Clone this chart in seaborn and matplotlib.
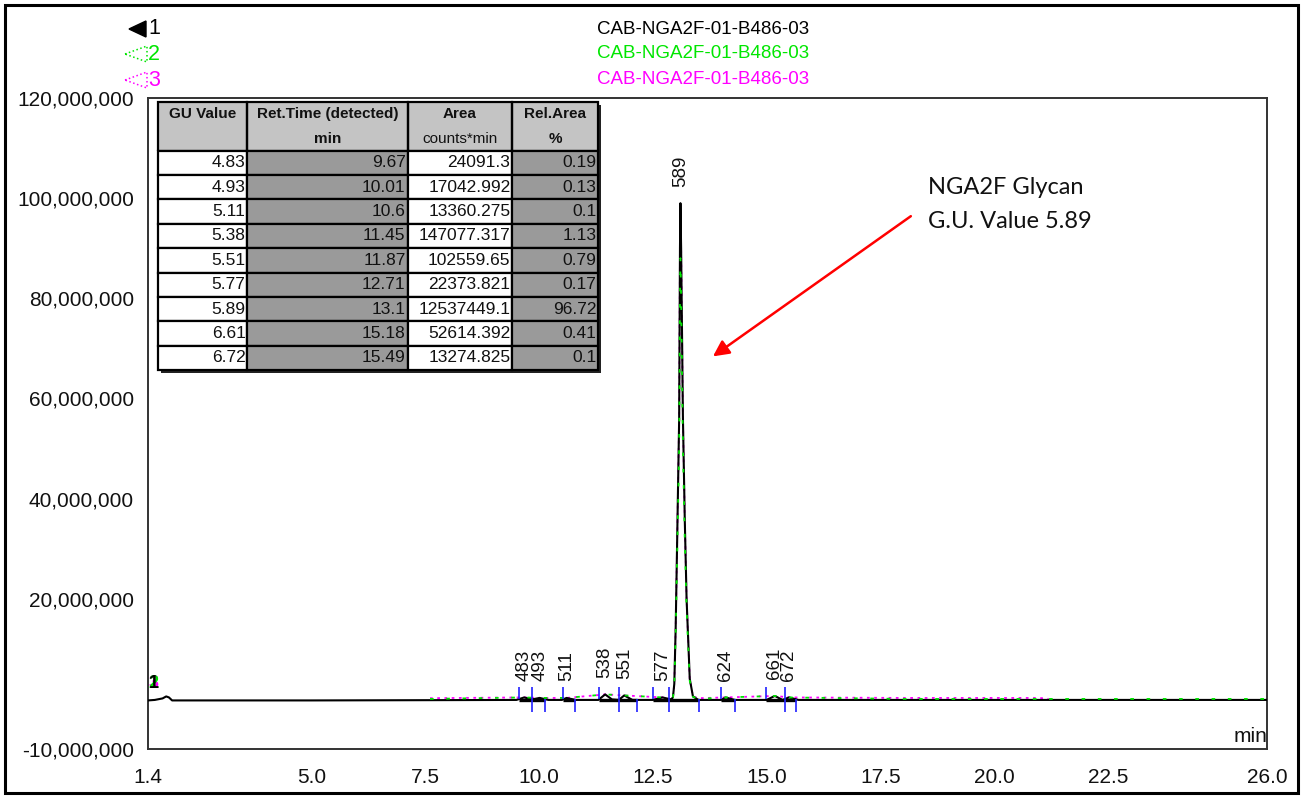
import matplotlib
matplotlib.use("Agg")
import matplotlib.pyplot as plt
import seaborn as sns
import pandas as pd
from matplotlib.patches import Polygon, Rectangle
from matplotlib.ticker import FixedLocator, FuncFormatter

sns.set_theme(style="white")
plt.rcParams["font.family"] = ["Liberation Sans", "DejaVu Sans"]

# ---- chromatogram traces (time in min, signal in counts) ----
t_1 = [1.40, 1.55, 1.72, 1.80, 1.86, 1.93, 3.00, 5.00, 7.50, 9.50, 9.67, 9.84,
       10.01, 10.20, 10.50, 10.60, 10.80, 11.30, 11.45, 11.60, 11.75, 11.87,
       12.05, 12.50, 12.71, 12.90, 12.94, 12.97, 13.00, 13.03, 13.077, 13.095,
       13.105, 13.12, 13.16, 13.20, 13.24, 13.31, 13.38, 13.50, 14.00, 14.10,
       14.30, 15.00, 15.18, 15.35, 15.49, 15.70, 20.00, 26.00]
sig_1 = [-300000, -200000, 100000, 500000, 300000, -300000, -300000, -300000,
         -250000, -200000, 300000, -100000, 200000, -200000, -200000, 200000,
         -200000, -200000, 900000, -100000, -200000, 700000, -200000, -200000,
         300000, -100000, 300000, 3000000, 14000000, 30000000, 56000000,
         90000000, 99000000, 90000000, 56000000, 36000000, 20000000, 4000000,
         500000, -200000, -200000, 300000, -200000, -200000, 600000, -200000,
         300000, -200000, -200000, -200000]

t_2 = [7.60, 9.67, 10.01, 10.60, 11.45, 11.87, 12.71, 12.90, 12.94, 12.97,
       13.00, 13.03, 13.077, 13.095, 13.105, 13.12, 13.16, 13.20, 13.24, 13.31,
       13.38, 13.50, 14.10, 15.18, 15.49, 18.00, 22.00, 26.00]
sig_2 = [0, 300000, 200000, 200000, 900000, 700000, 300000, 0, 300000, 2700000,
         12500000, 27000000, 50000000, 80000000, 88000000, 80000000, 50000000,
         32000000, 18000000, 3600000, 450000, 0, 300000, 600000, 300000, 0, 0, 0]

t_3 = [7.60, 9.67, 10.01, 10.60, 11.45, 11.87, 12.71, 12.90, 12.94, 12.97,
       13.00, 13.03, 13.077, 13.095, 13.105, 13.12, 13.16, 13.20, 13.24, 13.31,
       13.38, 13.50, 14.10, 15.18, 15.49, 18.00, 21.00, 21.20]
sig_3 = [150000, 300000, 200000, 200000, 900000, 700000, 300000, -100000,
         300000, 3000000, 14000000, 30000000, 56000000, 90000000, 97000000,
         90000000, 56000000, 36000000, 20000000, 4000000, 500000, 150000,
         300000, 600000, 300000, 200000, 200000, 0]

# ---- peak annotation (GU x 100) and integration limits ----
peak_labels = ["483", "493", "511", "538", "551", "577", "589", "624", "661", "672"]
peak_rt = [9.67, 10.01, 10.60, 11.45, 11.87, 12.71, 13.10, 14.10, 15.18, 15.49]
peak_height = [300000, 200000, 200000, 900000, 700000, 300000, 99000000,
               300000, 600000, 300000]
peak_start = [9.55, 9.84, 10.52, 11.31, 11.75, 12.50, 12.85, 14.00, 14.98, 15.40]
peak_end = [9.84, 10.13, 10.78, 11.75, 12.15, 12.85, 13.51, 14.30, 15.40, 15.64]

# ---- peak table ----
gu_value = [4.83, 4.93, 5.11, 5.38, 5.51, 5.77, 5.89, 6.61, 6.72]
ret_time = [9.67, 10.01, 10.6, 11.45, 11.87, 12.71, 13.1, 15.18, 15.49]
area = [24091.3, 17042.992, 13360.275, 147077.317, 102559.65, 22373.821,
        12537449.1, 52614.392, 13274.825]
rel_area = [0.19, 0.13, 0.1, 1.13, 0.79, 0.17, 96.72, 0.41, 0.1]
table_header = [["GU Value", "Ret.Time (detected)", "Area", "Rel.Area"],
                ["", "min", "counts*min", "%"]]

sample_name = "CAB-NGA2F-01-B486-03"
trace_colors = ["#000000", "#00e600", "#ff00ff"]

x_major = [1.4, 2.5, 5.0, 7.5, 10.0, 12.5, 15.0, 17.5, 20.0, 22.5, 25.0, 26.0]
x_labels = ["1.4", "", "5.0", "7.5", "10.0", "12.5", "15.0", "17.5", "20.0",
            "22.5", "", "26.0"]
y_major = [-10000000, 0, 20000000, 40000000, 60000000, 80000000, 100000000,
           120000000]

W, H = 1305, 800
fig = plt.figure(figsize=(W / 100, H / 100), dpi=100)
ax = fig.add_axes([148 / W, 1 - 749 / H, 1119 / W, 651 / H])

df1 = pd.DataFrame({"t": t_1, "s": sig_1})
df2 = pd.DataFrame({"t": t_2, "s": sig_2})
df3 = pd.DataFrame({"t": t_3, "s": sig_3})

sns.lineplot(data=df3, x="t", y="s", ax=ax, color=trace_colors[2], lw=1.3,
             linestyle=(0, (1.5, 2.5)), estimator=None, sort=False, zorder=2)
sns.lineplot(data=df1, x="t", y="s", ax=ax, color=trace_colors[0], lw=1.5,
             estimator=None, sort=False, zorder=3)
sns.lineplot(data=df2, x="t", y="s", ax=ax, color=trace_colors[1], lw=1.3,
             linestyle=(0, (2, 7)), estimator=None, sort=False, zorder=4)

# integration baselines and peak start / end markers
ax.hlines([-200000] * len(peak_start), peak_start, peak_end, color="black",
          lw=2.4, zorder=3)
ax.vlines(peak_start, 0, 2400000, color="#2020ff", lw=1.2, zorder=5)
ax.vlines(peak_end, -2600000, 0, color="#2020ff", lw=1.2, zorder=5)

for lab, rt, h in zip(peak_labels, peak_rt, peak_height):
    ax.text(rt, h + 3300000, lab, rotation=90, ha="center", va="bottom",
            fontsize=13.5, color="#111111", zorder=6)

# trace numbers at start of run
for i, c in enumerate(trace_colors):
    ax.text(1.52, 1300000, str(i + 1), color=c, fontsize=13, fontweight="bold",
            ha="center", va="bottom", zorder=6 - i)

ax.set_xlim(1.4, 26.0)
ax.set_ylim(-10000000, 120000000)
ax.xaxis.set_major_locator(FixedLocator(x_major))
ax.xaxis.set_minor_locator(FixedLocator([2.0 + 0.5 * k for k in range(48)]))
ax.set_xticklabels(x_labels)
ax.yaxis.set_major_locator(FixedLocator(y_major))
ax.yaxis.set_minor_locator(FixedLocator([-5000000 + 5000000 * k for k in range(25)]))
ax.yaxis.set_major_formatter(FuncFormatter(lambda v, p: "" if v == 0 else f"{int(v):,}"))
ax.tick_params(axis="both", which="major", direction="out", length=8, width=1.3,
               color="#333333", labelsize=15, colors="#111111")
ax.tick_params(axis="both", which="minor", direction="out", length=4, width=1.3,
               color="#333333")
ax.tick_params(axis="x", which="major", pad=6)
ax.tick_params(axis="y", which="major", pad=2)
ax.set_xlabel("")
ax.set_ylabel("")
for sp in ax.spines.values():
    sp.set_color("#333333")
    sp.set_linewidth(1.4)

ax.text(1.0, 0.004, "min", transform=ax.transAxes, ha="right", va="bottom",
        fontsize=15, color="#111111")

# peak table inset
tb_x, tb_y, tb_w, tb_h = 10 / 1119, 1 - 272 / 651, 440 / 1119, 268 / 651
n_rows = len(gu_value) + 2
ax.add_patch(Rectangle((tb_x, tb_y + tb_h * (n_rows - 2) / n_rows), tb_w,
                       tb_h * 2 / n_rows, transform=ax.transAxes,
                       facecolor="#c4c4c4", edgecolor="none", zorder=9))
# drop shadow on the right / bottom of the table
ax.add_patch(Rectangle((tb_x + 3 / 1119, tb_y - 3 / 651), tb_w, tb_h,
                       transform=ax.transAxes, facecolor="#222222",
                       edgecolor="none", zorder=8))

rows = [[str(g), str(r), str(a), str(p)] for g, r, a, p in
        zip(gu_value, ret_time, area, rel_area)]
tbl = ax.table(cellText=table_header + rows,
               colWidths=[89, 161, 104, 86],
               bbox=[tb_x, tb_y, tb_w, tb_h],
               cellLoc="right", zorder=10)
tbl.auto_set_font_size(False)
for (r, c), cell in tbl.get_celld().items():
    cell.set_edgecolor("black")
    cell.set_linewidth(1.6)
    cell.PAD = 0.015
    txt = cell.get_text()
    txt.set_color("#111111")
    if r < 2:
        cell.set_facecolor("none")
        cell.set_fill(False)
        txt.set_ha("center")
        cell._loc = "center"
        txt.set_fontsize(11)
        bold = (r == 0) or (c in (1, 3))
        txt.set_fontweight("bold" if bold else "normal")
        cell.visible_edges = "TLR" if r == 0 else "BLR"
    else:
        cell.set_facecolor("white" if c in (0, 2) else "#9a9a9a")
        txt.set_fontsize(12.5)

# title lines and trace keys
title_y = [29, 54, 80]
for y, c in zip(title_y, trace_colors):
    fig.text(703 / W, 1 - y / H, sample_name, color=c, fontsize=13.5,
             ha="center", va="center")
fig.add_artist(Polygon([[129 / W, 1 - 29 / H], [146 / W, 1 - 21 / H],
                        [146 / W, 1 - 37 / H]], closed=True,
                       transform=fig.transFigure, facecolor="black",
                       edgecolor="black"))
for y, c in zip(title_y[1:], trace_colors[1:]):
    fig.add_artist(Polygon([[125 / W, 1 - y / H], [147 / W, 1 - (y - 8) / H],
                            [147 / W, 1 - (y + 8) / H]], closed=True,
                           transform=fig.transFigure, facecolor="none",
                           edgecolor=c, lw=1.1, linestyle=":"))
for k, (y, c) in enumerate(zip(title_y, trace_colors)):
    fig.text(148 / W, 1 - y / H, str(k + 1), color=c,
             fontsize=15.5, ha="left", va="center")

# callout for the main glycan peak
ax.annotate("", xy=(13.82, 68400000), xytext=(18.17, 96400000),
            arrowprops=dict(arrowstyle="-|>", color="red", lw=1.8,
                            mutation_scale=24, shrinkA=0, shrinkB=0))
fig.text(928 / W, 1 - 187 / H, "NGA2F Glycan", family=["Lato", "DejaVu Sans"],
         fontsize=17, ha="left", va="center", color="#111111")
fig.text(928 / W, 1 - 221 / H, "G.U. Value 5.89", family=["Lato", "DejaVu Sans"],
         fontsize=17, ha="left", va="center", color="#111111")

fig.add_artist(Rectangle((5 / W, 7 / H), 1293 / W, 788 / H, transform=fig.transFigure,
                         fill=False, edgecolor="black", lw=2.2))

fig.savefig("out.png", dpi=100, facecolor="white")
